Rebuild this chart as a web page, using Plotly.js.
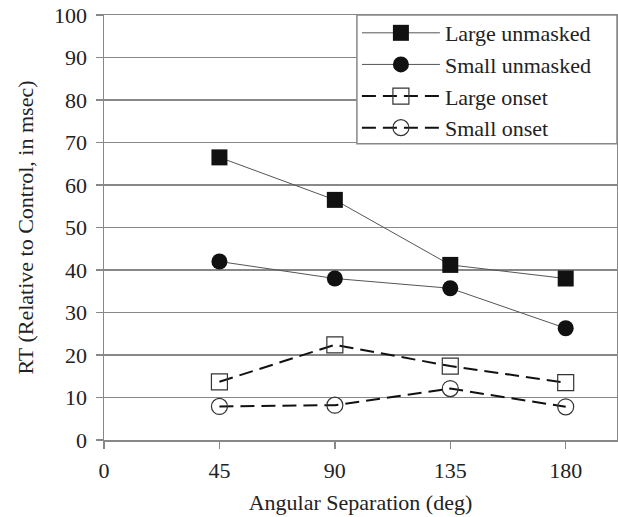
<!DOCTYPE html>
<html>
<head>
<meta charset="utf-8">
<script src="https://cdn.plot.ly/plotly-3.0.1.min.js"></script>
<style>html,body{margin:0;padding:0;background:#fff;}#chart{width:618px;height:517px;}</style>
</head>
<body>
<div id="chart"></div>
<script>
var separations = [45, 90, 135, 180];
var largeUnmasked = [66.5, 56.5, 41.2, 38.0];
var smallUnmasked = [42.0, 38.0, 35.7, 26.3];
var largeOnset = [13.7, 22.4, 17.4, 13.5];
var smallOnset = [7.9, 8.2, 12.1, 7.8];
var seriesNames = ['Large unmasked', 'Small unmasked', 'Large onset', 'Small onset'];
var xTicks = [0, 45, 90, 135, 180];
var yTicks = [0, 10, 20, 30, 40, 50, 60, 70, 80, 90, 100];

var font = 'Times New Roman, Liberation Serif, DejaVu Serif, serif';
var traces = [
  {x: separations, y: largeUnmasked, name: seriesNames[0], mode: 'lines+markers',
   line: {color: '#555', width: 1},
   marker: {symbol: 'square', size: 16, color: '#111'}},
  {x: separations, y: smallUnmasked, name: seriesNames[1], mode: 'lines+markers',
   line: {color: '#555', width: 1},
   marker: {symbol: 'circle', size: 16, color: '#111'}},
  {x: separations, y: largeOnset, name: seriesNames[2], mode: 'lines+markers',
   line: {color: '#111', width: 2, dash: '14px,7px'},
   marker: {symbol: 'square-open', size: 16, color: '#333', line: {width: 1.2}}},
  {x: separations, y: smallOnset, name: seriesNames[3], mode: 'lines+markers',
   line: {color: '#111', width: 2, dash: '14px,7px'},
   marker: {symbol: 'circle-open', size: 16, color: '#333', line: {width: 1.2}}}
];

var layout = {
  width: 618, height: 517,
  margin: {l: 104, r: 1, t: 15, b: 77},
  paper_bgcolor: '#fff', plot_bgcolor: '#fff',
  font: {family: font, size: 22, color: '#222'},
  showlegend: true,
  legend: {x: 0.493, xanchor: 'left', y: 1.007, yanchor: 'top',
    bgcolor: 'rgba(0,0,0,0)', borderwidth: 0,
    font: {family: font, size: 22, color: '#222'},
    itemwidth: 78, tracegroupgap: 0},
  shapes: [{type: 'rect', xref: 'paper', yref: 'paper', x0: 0.493, x1: 1, y0: 0.697, y1: 1,
    fillcolor: '#fff', line: {color: '#888', width: 1.5}, layer: 'above'}],
  xaxis: {range: [0, 200], tickvals: xTicks, ticktext: xTicks.map(String),
    showgrid: false, zeroline: false, showline: true, linecolor: '#888', linewidth: 1.5,
    mirror: true, ticks: 'outside', ticklen: 7, tickcolor: '#888', tickwidth: 1.5,
    ticklabelstandoff: 3,
    tickfont: {family: font, size: 22, color: '#222'},
    title: {text: 'Angular Separation (deg)', font: {family: font, size: 22, color: '#222'}, standoff: 12}},
  yaxis: {range: [0, 100], tickvals: yTicks, ticktext: yTicks.map(String),
    showgrid: true, gridcolor: '#888', gridwidth: 1.5, zeroline: false,
    showline: true, linecolor: '#888', linewidth: 1.5, mirror: true,
    ticks: 'outside', ticklen: 7, tickcolor: '#888', tickwidth: 1.5,
    ticklabelstandoff: 4,
    tickfont: {family: font, size: 22, color: '#222'},
    title: {text: 'RT (Relative to Control, in msec)', font: {family: font, size: 22, color: '#222'}, standoff: 14}}
};
Plotly.newPlot('chart', traces, layout, {displayModeBar: false, staticPlot: true});
</script>
</body>
</html>
